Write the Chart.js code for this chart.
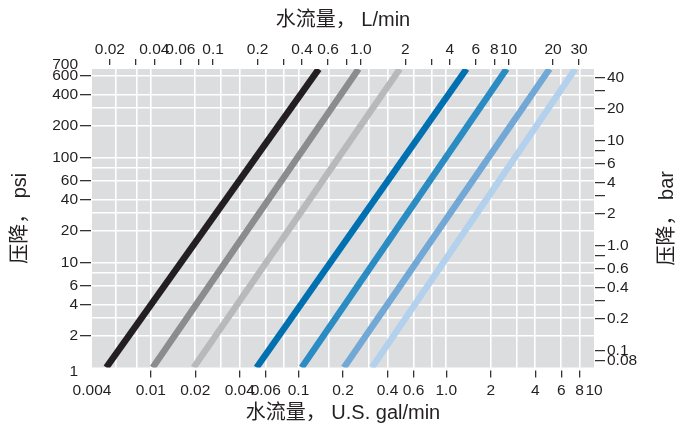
<!DOCTYPE html>
<html>
<head>
<meta charset="utf-8">
<script src="https://cdn.jsdelivr.net/npm/chart.js@4.4.1/dist/chart.umd.min.js"></script>
<style>
html,body{margin:0;padding:0;background:#ffffff;}
#wrap{width:677px;height:425px;position:relative;}
</style>
</head>
<body>
<div id="wrap"><canvas id="c"></canvas></div>
<script>
// ---- axis ticks (U.S. gal/min, bottom) ----
const gpmRange = [0.004, 10];
const gpmTicks  = [0.004, 0.01, 0.02, 0.04, 0.06, 0.1, 0.2, 0.4, 0.6, 1, 2, 4, 6, 8, 10];
const gpmLabels = ['0.004','0.01','0.02','0.04','0.06','0.1','0.2','0.4','0.6','1.0','2','4','6','8','10'];
// ---- L/min (top) ----
const lpmTicks  = [0.02, 0.03, 0.04, 0.06, 0.08, 0.1, 0.2, 0.3, 0.4, 0.6, 0.8, 1, 2, 3, 4, 6, 8, 10, 20, 30];
const lpmLabels = ['0.02','','0.04','0.06','','0.1','0.2','','0.4','0.6','','1.0','2','','4','6','8','10','20','30'];
// ---- psi (left) ----
const psiRange = [1, 700];
const psiTicks  = [1, 2, 4, 6, 10, 20, 40, 60, 100, 200, 400, 600, 700];
const psiLabels = ['1','2','4','6','10','20','40','60','100','200','400','600','700'];
// ---- bar (right) ----
const barTicks  = [0.08, 0.1, 0.2, 0.3, 0.4, 0.6, 0.8, 1, 2, 3, 4, 6, 8, 10, 20, 30, 40];
const barLabels = ['0.08','0.1','0.2','','0.4','0.6','','1.0','2','','4','6','','10','20','','40'];
// ---- grid lines ----
const gridGpm = [0.0058, 0.008, 0.01, 0.02, 0.03, 0.04, 0.06, 0.08, 0.1, 0.16, 0.3, 0.4, 0.6, 0.8, 1, 2, 3, 4, 6, 8];
const gridPsi = [2, 3, 4, 6, 8, 10, 20, 30, 40, 60, 80, 100, 200, 300, 400, 600];
// ---- series: flow (gal/min) at 1 psi and at 700 psi ----
const flowAt1psi   = [0.005, 0.0103, 0.0195, 0.052, 0.105, 0.203, 0.314];
const flowAt700psi = [0.137, 0.255, 0.485, 1.37, 2.56, 5.0, 7.46];
const lineColors = ['#231f20', '#8b8c8e', '#b8b9bb', '#0070b0', '#2b8cc4', '#72a8d5', '#b3d1ed'];

const LPM_PER_GPM = 3.785;
const BAR_PER_PSI = 0.0689476;
const FONT = "'Liberation Sans', 'Noto Sans CJK SC', Arial, sans-serif";
const INK = '#231f20';
const MARK = '#333333';
const TICK_SIZE = 15.5;

function fixedTicks(values) {
  return s => { s.ticks = values.map(v => ({ value: v })); };
}
function markColor(ctx) {
  const s = ctx.scale;
  const v = ctx.tick ? ctx.tick.value : null;
  return (v === s.min || v === s.max) ? 'rgba(0,0,0,0)' : MARK;
}
function tickFont(ctx) {
  const s = ctx.scale;
  const v = ctx.tick ? ctx.tick.value : null;
  const edge = (v === s.min || v === s.max);
  return { family: FONT, size: TICK_SIZE, lineHeight: edge ? 0.6 : 1.2 };
}
function markAxisGrid(len, dash) {
  return { drawOnChartArea: false, drawTicks: true, tickLength: len, tickWidth: 1.3,
           lineWidth: 1.3, color: 'rgba(0,0,0,0)', tickColor: markColor, tickBorderDash: dash };
}

const bgPlugin = {
  id: 'plotBg',
  beforeDraw(chart) {
    const { ctx, chartArea: a } = chart;
    ctx.save();
    ctx.fillStyle = '#dcdddf';
    ctx.fillRect(a.left, a.top, a.right - a.left, a.bottom - a.top);
    ctx.restore();
  }
};
const rightTitle = {
  id: 'rightTitle',
  afterDraw(chart) {
    const { ctx, chartArea: a } = chart;
    const s = chart.scales.y2;
    ctx.save();
    ctx.translate(s.right - 10, (a.top + a.bottom) / 2);
    ctx.rotate(-Math.PI / 2);
    ctx.font = '20px ' + FONT;
    ctx.textAlign = 'center';
    ctx.textBaseline = 'middle';
    ctx.fillStyle = INK;
    ctx.fillText('压降， bar', 0, 0);
    ctx.restore();
  }
};

const datasets = flowAt1psi.map((q1, k) => ({
  data: [{ x: q1, y: psiRange[0] }, { x: flowAt700psi[k], y: psiRange[1] }],
  borderColor: lineColors[k],
  backgroundColor: lineColors[k],
  borderWidth: 6.5,
  borderCapStyle: 'butt',
  pointRadius: 0,
  pointHoverRadius: 0,
  fill: false,
  tension: 0,
  clip: 0,
  xAxisID: 'x',
  yAxisID: 'y'
}));

new Chart(document.getElementById('c'), {
  type: 'line',
  data: { datasets },
  plugins: [bgPlugin, rightTitle],
  options: {
    responsive: true,
    maintainAspectRatio: false,
    animation: false,
    events: [],
    layout: { padding: 0 },
    plugins: { legend: { display: false }, tooltip: { enabled: false } },
    scales: {
      x: {
        type: 'logarithmic', position: 'bottom', bounds: 'data',
        min: gpmRange[0], max: gpmRange[1],
        afterBuildTicks: fixedTicks(gpmTicks),
        afterFit: s => { s.height = 57.5; },
        border: { display: false },
        grid: markAxisGrid(10, [0, 2.5, 7.5, 50]),
        ticks: { autoSkip: false, maxRotation: 0, minRotation: 0, padding: 3.5, color: INK,
                 font: { family: FONT, size: TICK_SIZE }, callback: (v, i) => gpmLabels[i] },
        title: { display: true, text: '水流量， U.S. gal/min', color: INK,
                 font: { family: FONT, size: 20 }, padding: { top: 0, bottom: 0 } }
      },
      x2: {
        type: 'logarithmic', position: 'top', bounds: 'data',
        min: gpmRange[0] * LPM_PER_GPM, max: gpmRange[1] * LPM_PER_GPM,
        afterBuildTicks: fixedTicks(lpmTicks),
        afterFit: s => { s.height = 69; },
        border: { display: false },
        grid: markAxisGrid(10, [6, 50]),
        ticks: { autoSkip: false, maxRotation: 0, minRotation: 0, padding: 0, color: INK,
                 font: { family: FONT, size: TICK_SIZE }, callback: (v, i) => lpmLabels[i] },
        title: { display: true, text: '水流量， L/min', color: INK,
                 font: { family: FONT, size: 20 }, padding: { top: 8, bottom: 0 } }
      },
      xg: {
        type: 'logarithmic', position: 'bottom', bounds: 'data',
        min: gpmRange[0], max: gpmRange[1],
        afterBuildTicks: fixedTicks(gridGpm),
        afterFit: s => { s.height = 0; },
        border: { display: false },
        ticks: { display: false },
        grid: { drawTicks: false, color: '#ffffff', lineWidth: 1.6 }
      },
      y: {
        type: 'logarithmic', position: 'left', bounds: 'data',
        min: psiRange[0], max: psiRange[1],
        afterBuildTicks: fixedTicks(psiTicks),
        afterFit: s => { s.width = 92; },
        border: { display: false },
        grid: markAxisGrid(12, [11, 50]),
        ticks: { autoSkip: false, padding: 2, color: INK, font: tickFont,
                 callback: (v, i) => {
                   const t = psiLabels[i];
                   if (v === psiRange[0]) return ['', t];
                   if (v === psiRange[1]) return [t, ''];
                   return t;
                 } },
        title: { display: true, text: '压降， psi', color: INK,
                 font: { family: FONT, size: 20 }, padding: { top: 8, bottom: 0 } }
      },
      y2: {
        type: 'logarithmic', position: 'right', bounds: 'data',
        min: psiRange[0] * BAR_PER_PSI, max: psiRange[1] * BAR_PER_PSI,
        afterBuildTicks: fixedTicks(barTicks),
        afterFit: s => { s.width = 83; },
        border: { display: false },
        grid: markAxisGrid(11, [0, 1, 10, 50]),
        ticks: { autoSkip: false, padding: 2, color: INK,
                 font: { family: FONT, size: TICK_SIZE }, callback: (v, i) => barLabels[i] }
      },
      yg: {
        type: 'logarithmic', position: 'left', bounds: 'data',
        min: psiRange[0], max: psiRange[1],
        afterBuildTicks: fixedTicks(gridPsi),
        afterFit: s => { s.width = 0; },
        border: { display: false },
        ticks: { display: false },
        grid: { drawTicks: false, color: '#ffffff', lineWidth: 1.6 }
      }
    }
  }
});
</script>
</body>
</html>
